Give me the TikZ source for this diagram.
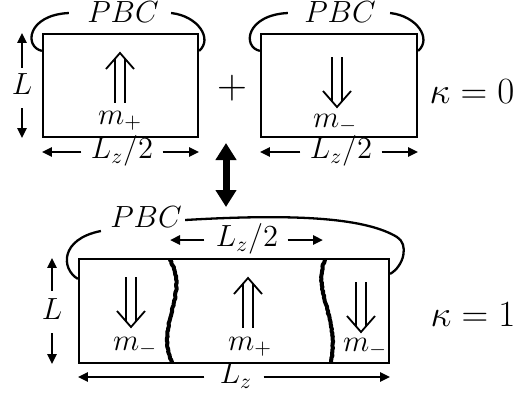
\RequirePackage{fix-cm}
\documentclass[tikz,border=0pt]{standalone}
\usetikzlibrary{arrows.meta,decorations.pathmorphing}
\begin{document}
\begin{tikzpicture}[x=0.5pt,y=-0.5pt,
  boxst/.style={draw, line width=1.1pt, inner sep=0pt},
  pbcline/.style={line width=1.15pt},
  dimarr/.style={line width=1.3pt, -{Triangle[length=5pt,width=4.5pt]}},
  labtxt/.style={inner sep=0pt, font=\fontsize{15.3}{18}\selectfont},
  captxt/.style={labtxt, text height=0.68em, text depth=0pt},
  bigtxt/.style={inner sep=0pt, font=\fontsize{18.5}{22}\selectfont},
  spinline/.style={line width=0.9pt},
  wallline/.style={line width=2pt, line join=round, line cap=round, decorate,
    decoration={random steps, segment length=0.8pt, amplitude=0.22pt}},
  thickdbl/.style={line width=3.5pt,
    {Triangle[length=8.5pt,width=10pt]}-{Triangle[length=8.5pt,width=10pt]}},
  spinup/.pic={
    \draw[spinline] (-14,16) -- (0,0) -- (14,16);
    \draw[spinline] (-5.2,5.9) -- (-5.2,50) (5.2,5.9) -- (5.2,50);},
  spindown/.pic={
    \draw[spinline] (-14,-16) -- (0,0) -- (14,-16);
    \draw[spinline] (-5.2,-5.9) -- (-5.2,-50) (5.2,-5.9) -- (5.2,-50);}
]
\useasboundingbox (0,0) rectangle (528,397);

% ---------- kappa = 0 row ----------
\node[boxst, minimum width=77.5pt, minimum height=51.5pt] (A) at (120.5,85.5) {};
\node[boxst, minimum width=78pt, minimum height=51.5pt] (B) at (339,85.5) {};

\node[captxt] (pA) at (123,16) {$PBC$};
\node[captxt] (pB) at (340,16) {$PBC$};

\draw[pbcline] ([yshift=-9pt]A.north west) .. controls +(-18,-4) and +(-42,2) .. ([xshift=-9pt,yshift=1.5pt]pA.west);
\draw[pbcline] ([xshift=6pt,yshift=1.5pt]pA.east) .. controls +(27,3) and +(14,-12) .. ([yshift=-9pt]A.north east);
\draw[pbcline] ([yshift=-9pt]B.north west) .. controls +(-18,-4) and +(-42,2) .. ([xshift=-8pt,yshift=1.5pt]pB.west);
\draw[pbcline] ([xshift=7pt,yshift=1.5pt]pB.east) .. controls +(27,3) and +(14,-12) .. ([yshift=-9pt]B.north east);

\node[captxt] (LA) at (22,88) {$L$};
\draw[dimarr] ([yshift=6.5pt]LA.north) -- (LA |- A.north);
\draw[dimarr] ([yshift=-6.5pt]LA.south) -- (LA |- A.south);

\pic at (120,53) {spinup};
\node[labtxt, anchor=base] (mA) at (120,124) {$m_+$};
\pic at (337,107) {spindown};
\node[labtxt, anchor=base] (mB) at (335,127) {$m_-$};

\node[captxt] (zA) at (122,152) {$L_z/2$};
\draw[dimarr] ([xshift=-4.5pt]zA.west) -- (zA -| A.west);
\draw[dimarr] ([xshift=4.5pt]zA.east) -- (zA -| A.east);
\node[captxt] (zB) at (341,152) {$L_z/2$};
\draw[dimarr] ([xshift=-4.5pt]zB.west) -- (zB -| B.west);
\draw[dimarr] ([xshift=4.5pt]zB.east) -- (zB -| B.east);

\node[inner sep=0pt, font=\huge] (plus) at (232,88) {$+$};
\node[bigtxt] (k0) at (472,92) {$\kappa=0$};

% ---------- double arrow ----------
\coordinate (dt) at (226,143);
\coordinate (db) at (226,207);
\draw[thickdbl] (dt) -- (db);

% ---------- kappa = 1 row ----------
\node[boxst, minimum width=155pt, minimum height=52pt] (C) at (234,311) {};
\node[captxt] (pC) at (146,221) {$PBC$};
\coordinate (cR) at (397,237);
\draw[pbcline] ([yshift=-10.5pt]C.north west) .. controls +(-17,-10) and +(-41,8) .. ([xshift=-4.5pt,yshift=-5pt]pC.west);
\draw[pbcline] ([xshift=1.5pt,yshift=0.5pt]pC.east) .. controls +(118,-7) and +(-30,-18) .. (cR)
  .. controls +(12,7.2) and +(14,-8) .. ([yshift=-8pt]C.north east);

\draw[wallline] (170,260) .. controls (190,295) and (155,325) .. (172,362);
\draw[wallline] (325,260) .. controls (312,290) and (340,320) .. (331,362);

\node[captxt] (LC) at (52,313) {$L$};
\draw[dimarr] ([yshift=7.5pt]LC.north) -- (LC |- C.north);
\draw[dimarr] ([yshift=-6.5pt]LC.south) -- (LC |- C.south);

\pic at (131,327) {spindown};
\node[labtxt, anchor=base] (mC1) at (135,350) {$m_-$};
\pic at (248,278) {spinup};
\node[labtxt, anchor=base] (mC2) at (250,350) {$m_+$};
\pic at (361,332) {spindown};
\node[labtxt, anchor=base] (mC3) at (365,351) {$m_-$};

\node[captxt] (zC) at (247,240) {$L_z/2$};
\draw[dimarr] ([xshift=-5.5pt]zC.west) -- (zC -| 170,0);
\draw[dimarr] ([xshift=4.5pt]zC.east) -- (zC -| 323,0);

\node[captxt] (Lz) at (236,377) {$L_z$};
\draw[dimarr] ([xshift=-7.5pt]Lz.west) -- (Lz -| C.west);
\draw[dimarr] ([xshift=5.5pt]Lz.east) -- (Lz -| C.east);

\node[bigtxt] (k1) at (473,315) {$\kappa=1$};
\end{tikzpicture}
\end{document}
